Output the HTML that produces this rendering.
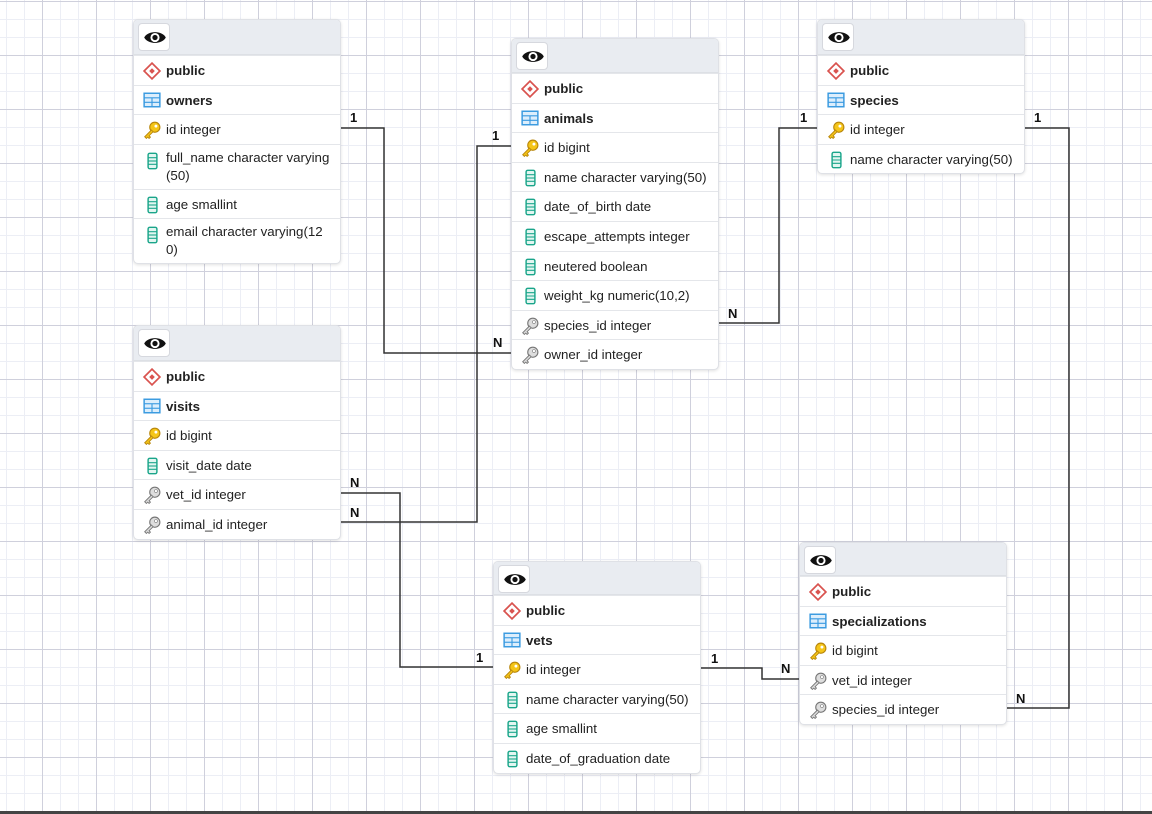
<!DOCTYPE html>
<html><head><meta charset="utf-8"><style>
*{margin:0;padding:0;box-sizing:border-box}
body{width:1152px;height:814px;overflow:hidden;position:relative;font-family:"Liberation Sans",Arial,sans-serif;font-size:13px;color:#222;
background-color:#fff;
background-image:
linear-gradient(to right,#cfd0dc 1px,transparent 1px),
linear-gradient(to bottom,#cfd0dc 1px,transparent 1px),
linear-gradient(to right,#eceef5 1px,transparent 1px),
linear-gradient(to bottom,#eceef5 1px,transparent 1px);
background-size:54px 54px,54px 54px,18px 18px,18px 18px;
background-position:42px 0,0 1px,6px 0,0 1px;}
.card{position:absolute;width:208px;background:#fff;border:1px solid #dfe1e6;border-radius:5px;box-shadow:0 1px 3px rgba(0,0,0,.12);overflow:hidden}
.hd{background:#e9ecf1;position:relative;border-bottom:1px solid #dde0e5}
.eye{position:absolute;left:4px;top:3px;width:32px;height:28px;background:#fff;border:1px solid #d6d8de;border-radius:4px}
.eye svg{position:absolute;left:4px;top:5px}
.r{position:relative;height:29.6px;border-top:1px solid #e4e6ea;padding-left:32px;line-height:29px;white-space:nowrap;font-size:13.3px}
.r:first-of-type{border-top:none}
.r.t{height:45px;line-height:18px;padding-top:4px;white-space:normal;padding-right:6px}
.b{font-weight:bold}
.r svg{position:absolute;left:9px;top:6px}
.r.t svg{top:7px}
#lines{position:absolute;left:0;top:0}
.lb{position:absolute;font-weight:bold;font-size:13px;color:#111}
.bot{position:absolute;left:0;top:811px;width:1152px;height:3px;background:#444}
</style></head><body>
<svg width="0" height="0" style="position:absolute">
<defs>
<symbol id="eye" viewBox="0 0 20 14"><path d="M1 7C4 1 16 1 19 7C16 13 4 13 1 7Z" fill="#111"/><circle cx="10" cy="7" r="3.8" fill="#fff"/><circle cx="10" cy="7" r="2.2" fill="#111"/></symbol>
<symbol id="dia" viewBox="0 0 16 16"><path d="M8 1L15 8L8 15L1 8Z" fill="#fff" stroke="#d9534f" stroke-width="1.5"/><path d="M8 5.5L10.5 8L8 10.5L5.5 8Z" fill="#d9534f"/></symbol>
<symbol id="tbl" viewBox="0 0 16 14"><rect x="1" y="1" width="14" height="12" fill="#dceefc" stroke="#3a9ae0" stroke-width="1.3"/><line x1="1" y1="5" x2="15" y2="5" stroke="#3a9ae0"/><line x1="1" y1="9" x2="15" y2="9" stroke="#3a9ae0"/><line x1="8" y1="5" x2="8" y2="13" stroke="#3a9ae0"/></symbol>
<symbol id="key" viewBox="0 0 16 16"><circle cx="10.5" cy="5.5" r="4.5" fill="#f5c518" stroke="#b8860b"/><circle cx="11.5" cy="4.5" r="1.3" fill="#fff"/><path d="M7.5 8L1.5 14L3 15.5L4.2 14.3L5.4 15.5L6.6 14.3L5.4 13.1L9 9.5Z" fill="#f5c518" stroke="#b8860b" stroke-width=".8"/></symbol>
<symbol id="fk" viewBox="0 0 16 16"><circle cx="10.5" cy="5.5" r="4.5" fill="#ddd" stroke="#777"/><circle cx="11.5" cy="4.5" r="1.3" fill="#fff" stroke="#777" stroke-width=".5"/><path d="M7.5 8L1.5 14L3 15.5L4.2 14.3L5.4 15.5L6.6 14.3L5.4 13.1L9 9.5Z" fill="#ddd" stroke="#777" stroke-width=".8"/></symbol>
<symbol id="col" viewBox="0 0 10 16"><rect x="1" y="1" width="8" height="14" rx="1.5" fill="#e3f6f1" stroke="#1aa58a" stroke-width="1.3"/><line x1="1" y1="5" x2="9" y2="5" stroke="#1aa58a"/><line x1="1" y1="8" x2="9" y2="8" stroke="#1aa58a"/><line x1="1" y1="11" x2="9" y2="11" stroke="#1aa58a"/></symbol>
</defs></svg>

<svg id="lines" width="1152" height="814">
<g fill="none" stroke="#333" stroke-width="1.5">
<polyline points="341,128 384,128 384,353 511,353"/>
<polyline points="511,146 477,146 477,522 341,522"/>
<polyline points="719,323 779,323 779,128 817,128"/>
<polyline points="341,493 400,493 400,667 493,667"/>
<polyline points="701,668 762,668 762,679 799,679"/>
<polyline points="1025,128 1069,128 1069,708 1007,708"/>
</g></svg>
<div class="lb" style="left:350px;top:110px">1</div>
<div class="lb" style="left:493px;top:335px">N</div>
<div class="lb" style="left:492px;top:128px">1</div>
<div class="lb" style="left:350px;top:505px">N</div>
<div class="lb" style="left:728px;top:306px">N</div>
<div class="lb" style="left:800px;top:110px">1</div>
<div class="lb" style="left:350px;top:475px">N</div>
<div class="lb" style="left:476px;top:650px">1</div>
<div class="lb" style="left:711px;top:651px">1</div>
<div class="lb" style="left:781px;top:661px">N</div>
<div class="lb" style="left:1034px;top:110px">1</div>
<div class="lb" style="left:1016px;top:691px">N</div>

<div class="card" style="left:133px;top:19px">
<div class="hd" style="height:35px"><div class="eye"><svg width="24" height="17"><use href="#eye"/></svg></div></div>
<div class="r b"><svg width="18" height="18"><use href="#dia"/></svg>public</div>
<div class="r b"><svg width="18" height="16"><use href="#tbl"/></svg>owners</div>
<div class="r"><svg width="18" height="18"><use href="#key"/></svg>id integer</div>
<div class="r t"><svg width="11" height="18" style="left:13px"><use href="#col"/></svg>full_name character varying (50)</div>
<div class="r"><svg width="11" height="18" style="left:13px"><use href="#col"/></svg>age smallint</div>
<div class="r t"><svg width="11" height="18" style="left:13px"><use href="#col"/></svg>email character varying(12<br>0)</div>
</div>

<div class="card" style="left:511px;top:38px">
<div class="hd" style="height:34px"><div class="eye"><svg width="24" height="17"><use href="#eye"/></svg></div></div>
<div class="r b"><svg width="18" height="18"><use href="#dia"/></svg>public</div>
<div class="r b"><svg width="18" height="16"><use href="#tbl"/></svg>animals</div>
<div class="r"><svg width="18" height="18"><use href="#key"/></svg>id bigint</div>
<div class="r"><svg width="11" height="18" style="left:13px"><use href="#col"/></svg>name character varying(50)</div>
<div class="r"><svg width="11" height="18" style="left:13px"><use href="#col"/></svg>date_of_birth date</div>
<div class="r"><svg width="11" height="18" style="left:13px"><use href="#col"/></svg>escape_attempts integer</div>
<div class="r"><svg width="11" height="18" style="left:13px"><use href="#col"/></svg>neutered boolean</div>
<div class="r"><svg width="11" height="18" style="left:13px"><use href="#col"/></svg>weight_kg numeric(10,2)</div>
<div class="r"><svg width="18" height="18"><use href="#fk"/></svg>species_id integer</div>
<div class="r"><svg width="18" height="18"><use href="#fk"/></svg>owner_id integer</div>
</div>

<div class="card" style="left:817px;top:19px">
<div class="hd" style="height:35px"><div class="eye"><svg width="24" height="17"><use href="#eye"/></svg></div></div>
<div class="r b"><svg width="18" height="18"><use href="#dia"/></svg>public</div>
<div class="r b"><svg width="18" height="16"><use href="#tbl"/></svg>species</div>
<div class="r"><svg width="18" height="18"><use href="#key"/></svg>id integer</div>
<div class="r"><svg width="11" height="18" style="left:13px"><use href="#col"/></svg>name character varying(50)</div>
</div>

<div class="card" style="left:133px;top:325px">
<div class="hd" style="height:35px"><div class="eye"><svg width="24" height="17"><use href="#eye"/></svg></div></div>
<div class="r b"><svg width="18" height="18"><use href="#dia"/></svg>public</div>
<div class="r b"><svg width="18" height="16"><use href="#tbl"/></svg>visits</div>
<div class="r"><svg width="18" height="18"><use href="#key"/></svg>id bigint</div>
<div class="r"><svg width="11" height="18" style="left:13px"><use href="#col"/></svg>visit_date date</div>
<div class="r"><svg width="18" height="18"><use href="#fk"/></svg>vet_id integer</div>
<div class="r"><svg width="18" height="18"><use href="#fk"/></svg>animal_id integer</div>
</div>

<div class="card" style="left:493px;top:561px">
<div class="hd" style="height:33px"><div class="eye"><svg width="24" height="17"><use href="#eye"/></svg></div></div>
<div class="r b"><svg width="18" height="18"><use href="#dia"/></svg>public</div>
<div class="r b"><svg width="18" height="16"><use href="#tbl"/></svg>vets</div>
<div class="r"><svg width="18" height="18"><use href="#key"/></svg>id integer</div>
<div class="r"><svg width="11" height="18" style="left:13px"><use href="#col"/></svg>name character varying(50)</div>
<div class="r"><svg width="11" height="18" style="left:13px"><use href="#col"/></svg>age smallint</div>
<div class="r"><svg width="11" height="18" style="left:13px"><use href="#col"/></svg>date_of_graduation date</div>
</div>

<div class="card" style="left:799px;top:542px">
<div class="hd" style="height:33px"><div class="eye"><svg width="24" height="17"><use href="#eye"/></svg></div></div>
<div class="r b"><svg width="18" height="18"><use href="#dia"/></svg>public</div>
<div class="r b"><svg width="18" height="16"><use href="#tbl"/></svg>specializations</div>
<div class="r"><svg width="18" height="18"><use href="#key"/></svg>id bigint</div>
<div class="r"><svg width="18" height="18"><use href="#fk"/></svg>vet_id integer</div>
<div class="r"><svg width="18" height="18"><use href="#fk"/></svg>species_id integer</div>
</div>
<div class="bot"></div>
</body></html>
